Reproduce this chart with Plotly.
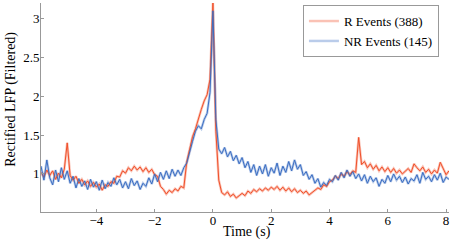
import numpy as np
import plotly.graph_objects as go

t_start = -5.9
t_step = 0.1

r_events = [1.02, 0.96, 1.05, 0.98, 1.04, 0.93, 1.01, 0.95, 1.06, 1.40,
            0.98, 0.92, 0.97, 0.88, 0.93, 0.86, 0.91, 0.84, 0.89, 0.83,
            0.87, 0.79, 0.86, 0.84, 0.90, 0.88, 0.97, 0.96, 1.04, 1.01,
            1.08, 1.04, 1.10, 1.05, 1.09, 1.03, 1.08, 1.02, 1.06, 0.99,
            0.97, 0.84, 0.80, 0.74, 0.79, 0.76, 0.81, 0.78, 0.84, 0.82,
            1.15, 1.32, 1.48, 1.58, 1.72, 1.83, 1.94, 2.02, 2.22, 3.20,
            1.55, 0.92, 0.76, 0.73, 0.77, 0.71, 0.74, 0.69, 0.72, 0.75,
            0.72, 0.78, 0.75, 0.80, 0.77, 0.81, 0.78, 0.82, 0.79, 0.83,
            0.80, 0.84, 0.79, 0.83, 0.78, 0.82, 0.77, 0.81, 0.76, 0.79,
            0.75, 0.78, 0.73, 0.76, 0.78, 0.82, 0.80, 0.86, 0.84, 0.90,
            0.92, 0.97, 0.94, 1.00, 0.97, 1.03, 0.99, 1.04, 1.02, 1.47,
            1.12, 1.16, 1.08, 1.13, 1.06, 1.11, 1.04, 1.09, 1.03, 1.08,
            1.02, 1.07, 1.01, 1.05, 1.00, 1.04, 1.07, 1.02, 1.13, 1.08,
            1.04, 1.09, 1.02, 1.06, 1.00, 1.05, 1.01, 1.15, 1.06, 0.99,
            1.04]

nr_events = [1.10, 0.92, 1.18, 0.95, 0.86, 1.05, 0.90, 1.08, 0.93, 1.04,
             0.88, 0.97, 0.82, 0.94, 0.84, 0.91, 0.80, 0.93, 0.83, 0.90,
             0.79, 0.92, 0.81, 0.89, 0.84, 0.95, 0.86, 0.93, 0.82, 0.90,
             0.81, 0.94, 0.85, 0.91, 0.80, 0.88, 0.84, 0.95, 0.87, 1.00,
             0.90, 1.02, 0.93, 1.04, 0.94, 1.06, 0.97, 1.05, 0.98, 1.08,
             1.14, 1.30, 1.42, 1.55, 1.62, 1.58, 1.70, 1.78, 2.05, 3.10,
             1.70, 1.32, 1.26, 1.34, 1.22, 1.29, 1.17, 1.24, 1.13, 1.21,
             1.08, 1.16, 1.02, 1.12, 0.98, 1.10, 1.00, 1.12, 0.97, 1.08,
             1.01, 1.14, 0.98, 1.10, 1.02, 1.16, 1.04, 1.18, 1.06, 1.12,
             0.98, 1.03, 0.93, 0.99, 0.88, 0.94, 0.83, 0.89, 0.85, 0.93,
             0.90, 0.98, 0.92, 1.02, 0.95, 1.05, 0.97, 1.03, 0.94, 1.00,
             0.91, 0.99, 0.88, 0.97, 0.90, 0.95, 0.84, 0.93, 0.88, 0.98,
             0.90, 1.00, 0.92, 0.97, 0.89, 0.96, 0.87, 0.94, 0.91, 0.99,
             0.88, 1.02, 0.93, 0.97, 0.90, 0.99, 0.92, 1.01, 0.89, 0.96,
             0.93]

x_ticks = [-4, -2, 0, 2, 4, 6, 8]
y_ticks = [1, 1.5, 2, 2.5, 3]
y_tick_text = ["1", "1.5", "2", "2.5", "3"]

t_r = t_start + t_step * np.arange(len(r_events))
t_nr = t_start + t_step * np.arange(len(nr_events))

RED = "#F0502A"
BLUE = "#3A6DC2"
RED_L = "rgba(240,80,42,0.35)"
BLUE_L = "rgba(58,109,194,0.35)"

fig = go.Figure()
fig.add_trace(go.Scatter(x=t_nr, y=nr_events, mode="lines", name="NR Events (145)",
                         line=dict(color=BLUE_L, width=2.5), legendrank=2, hoverinfo="skip"))
fig.add_trace(go.Scatter(x=t_r, y=r_events, mode="lines", name="R Events (388)",
                         line=dict(color=RED_L, width=2.5), legendrank=1, hoverinfo="skip"))
fig.add_trace(go.Scatter(x=t_r, y=r_events, mode="lines", showlegend=False,
                         line=dict(color=RED, width=1)))
fig.add_trace(go.Scatter(x=t_nr, y=nr_events, mode="lines", showlegend=False,
                         line=dict(color=BLUE, width=1)))

font = "Liberation Serif, Times New Roman, Times, serif"
fig.update_layout(
    width=454, height=245,
    margin=dict(l=41, r=5, t=3, b=33),
    plot_bgcolor="white", paper_bgcolor="white",
    font=dict(family=font, size=13, color="black"),
    legend=dict(x=0.642, y=0.99, xanchor="left", yanchor="top",
                bgcolor="white", bordercolor="#999999", borderwidth=1,
                font=dict(family=font, size=13), tracegroupgap=0),
    xaxis=dict(range=[-5.9, 8.1], tickvals=x_ticks, ticks="inside", ticklen=3,
               tickcolor="#999999", showline=True, linecolor="#999999", linewidth=1,
               showgrid=False, zeroline=False, automargin=False,
               ticklabeloverflow="allow", ticklabelstandoff=-4,
               tickfont=dict(family=font, size=13)),
    yaxis=dict(range=[0.51, 3.2], tickvals=y_ticks, ticktext=y_tick_text, ticks="inside",
               ticklen=3, tickcolor="#999999", showline=True, linecolor="#999999",
               linewidth=1, showgrid=False, zeroline=False, automargin=False,
               ticklabelstandoff=-2,
               tickfont=dict(family=font, size=13)),
    annotations=[
        dict(text="Time (s)", xref="paper", yref="paper", x=0.505, y=-0.096,
             xanchor="center", yanchor="middle", showarrow=False,
             font=dict(family=font, size=14)),
        dict(text="Rectified LFP (Filtered)", xref="paper", yref="paper",
             x=-0.072, y=0.54, xanchor="center", yanchor="middle", textangle=-90,
             showarrow=False, font=dict(family=font, size=14)),
    ],
)

fig.write_html("out.html", config={"displayModeBar": False},
               post_script="document.body.style.margin='0';document.body.style.padding='0';")
